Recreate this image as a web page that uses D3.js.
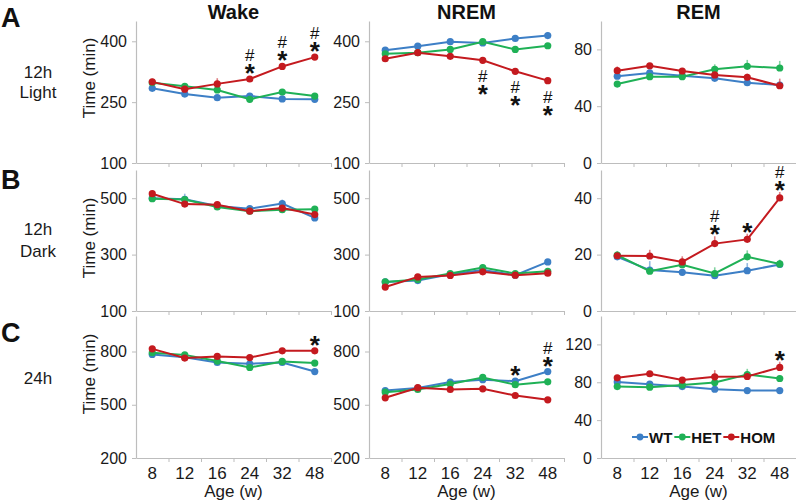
<!DOCTYPE html>
<html><head><meta charset="utf-8">
<script src="https://cdn.jsdelivr.net/npm/d3@7"></script>
<style>
html,body{margin:0;padding:0;background:#fff;}
svg{display:block;font-family:"Liberation Sans",Arial,sans-serif;}
</style></head>
<body><svg id="c" width="796" height="501"></svg>
<script>
// ---------- DATA ----------
const ages = ["8","12","16","24","32","48"];
const groups = ["WT","HET","HOM"];
const columnTitles = ["Wake","NREM","REM"];
const rowLetters = ["A","B","C"];
const rowNames = [["12h","Light"],["12h","Dark"],["24h"]];
const xAxisTitle = "Age (w)";
const yAxisTitle = "Time (min)";

// Row A : 12h Light
const wakeLightWT  = [284,270,261,265,258,257];
const wakeLightHET = [298,289,280,257,275,265];
const wakeLightHOM = [300,282,295,307,338,361];
const nremLightWT  = [378,388,399,396,407,414];
const nremLightHET = [369,372,380,399,380,389];
const nremLightHOM = [357,372,363,353,326,303];
const remLightWT   = [61.1,63.4,61.5,59.6,56.5,54.9];
const remLightHET  = [55.6,60.8,60.8,66.0,68.1,66.9];
const remLightHOM  = [65.0,68.5,64.8,62.0,60.4,54.4];
// Row B : 12h Dark
const wakeDarkWT   = [500,496,472,463,481,430];
const wakeDarkHET  = [498,495,469,454,459,461];
const wakeDarkHOM  = [516,479,477,454,465,442];
const nremDarkWT   = [203,208,230,245,227,274];
const nremDarkHET  = [203,212,233,254,233,241];
const nremDarkHOM  = [185,221,226,239,227,234];
const remDarkWT    = [19.2,14.5,13.7,12.5,14.3,16.5];
const remDarkHET   = [19.8,14.1,16.4,13.3,19.2,16.7];
const remDarkHOM   = [19.6,19.5,17.4,23.9,25.4,40.1];
// Row C : 24h
const wake24WT     = [783,768,738,731,738,687];
const wake24HET    = [793,781,746,710,744,735];
const wake24HOM    = [815,763,772,766,804,804];
const nrem24WT     = [580,594,628,641,633,687];
const nrem24HET    = [571,586,617,654,613,629];
const nrem24HOM    = [539,596,586,590,552,528];
const rem24WT      = [80.4,78.0,75.4,72.6,71.2,71.2];
const rem24HET     = [75.4,74.8,77.2,79.7,88.2,84.0];
const rem24HOM     = [84.7,89.0,82.3,85.8,86.1,95.7];

// error (SEM, upper bars)
const wakeLightErr = {WT:[4,4,4,6,4,4], HET:[5,6,5,5,7,5], HOM:[8,6,14,5,8,6]};
const nremLightErr = {WT:[4,4,4,4,5,9], HET:[4,4,4,5,5,4], HOM:[5,5,5,6,6,5]};
const remLightErr  = {WT:[1.5,1.5,1.5,1.5,1.5,1.5], HET:[1.5,1.5,1.5,3.5,4.5,5], HOM:[3,1.5,2,2,2.5,5]};
const wakeDarkErr  = {WT:[6,20,8,10,14,6], HET:[6,8,6,6,6,6], HOM:[8,6,6,6,6,6]};
const nremDarkErr  = {WT:[5,5,6,6,6,8], HET:[5,5,5,6,5,5], HOM:[5,5,5,5,5,5]};
const remDarkErr   = {WT:[1,3.2,1,1,2.7,1.5], HET:[1.5,1.5,1.5,2.2,2.3,1.5], HOM:[1,2.2,2,2.6,2,2.1]};
const wake24Err    = {WT:[8,8,8,10,8,10], HET:[8,8,8,8,10,8], HOM:[10,8,8,8,8,8]};
const nrem24Err    = {WT:[8,8,8,10,8,12], HET:[8,8,8,8,8,8], HOM:[8,8,8,8,8,8]};
const rem24Err     = {WT:[2,2,2,2,2,2], HET:[2,2,2,3,6,3], HOM:[3,2,2,7,2,6]};

// significance markers (* vs WT, # vs HET)
const wakeLightSig = ["","","","#*","#*","#*"];
const nremLightSig = ["","","","#*","#*","#*"];
const remDarkSig   = ["","","","#*","*","#*"];
const wake24Sig    = ["","","","","","*"];
const nrem24Sig    = ["","","","","*","#*"];
const rem24Sig     = ["","","","","","*"];

// axis settings
const wakeLightTicks = [100,250,400], wakeLightDomain = [100,450];
const remLightTicks  = [0,40,80],     remLightDomain  = [0,100];
const wakeDarkTicks  = [100,300,500], wakeDarkDomain  = [100,600];
const remDarkTicks   = [0,20,40],     remDarkDomain   = [0,50];
const day24Ticks     = [200,500,800], day24Domain     = [200,1000];
const rem24Ticks     = [0,40,80,120], rem24Domain     = [0,150];

const colors = {WT:"#3d7fc6", HET:"#1fb156", HOM:"#c41a1f"};

// ---------- LAYOUT ----------
const colX = [[136,331],[369,564],[601,796]];
const rowY = [[21,163],[170,311],[316,458]];

const panels = [
  {r:0,c:0,s:{WT:wakeLightWT,HET:wakeLightHET,HOM:wakeLightHOM},e:wakeLightErr,d:wakeLightDomain,t:wakeLightTicks,sig:wakeLightSig,anchor:"HOM",dir:-1},
  {r:0,c:1,s:{WT:nremLightWT,HET:nremLightHET,HOM:nremLightHOM},e:nremLightErr,d:wakeLightDomain,t:wakeLightTicks,sig:nremLightSig,anchor:"HOM",dir:1},
  {r:0,c:2,s:{WT:remLightWT,HET:remLightHET,HOM:remLightHOM},e:remLightErr,d:remLightDomain,t:remLightTicks},
  {r:1,c:0,s:{WT:wakeDarkWT,HET:wakeDarkHET,HOM:wakeDarkHOM},e:wakeDarkErr,d:wakeDarkDomain,t:wakeDarkTicks},
  {r:1,c:1,s:{WT:nremDarkWT,HET:nremDarkHET,HOM:nremDarkHOM},e:nremDarkErr,d:wakeDarkDomain,t:wakeDarkTicks},
  {r:1,c:2,s:{WT:remDarkWT,HET:remDarkHET,HOM:remDarkHOM},e:remDarkErr,d:remDarkDomain,t:remDarkTicks,sig:remDarkSig,anchor:"HOM",dir:-1},
  {r:2,c:0,s:{WT:wake24WT,HET:wake24HET,HOM:wake24HOM},e:wake24Err,d:day24Domain,t:day24Ticks,sig:wake24Sig,anchor:"HOM",dir:-1},
  {r:2,c:1,s:{WT:nrem24WT,HET:nrem24HET,HOM:nrem24HOM},e:nrem24Err,d:day24Domain,t:day24Ticks,sig:nrem24Sig,anchor:"WT",dir:-1},
  {r:2,c:2,s:{WT:rem24WT,HET:rem24HET,HOM:rem24HOM},e:rem24Err,d:rem24Domain,t:rem24Ticks,sig:rem24Sig,anchor:"HOM",dir:-1},
];

const svg = d3.select("#c");
const axisColor = "#bdbdbd", textColor = "#1a1a1a";

// titles
columnTitles.forEach((t,i)=>{
  svg.append("text").attr("x",(colX[i][0]+colX[i][1])/2).attr("y",19)
    .attr("text-anchor","middle").attr("font-size",20).attr("font-weight","bold")
    .attr("fill","#111").text(t);
});
// row letters and names
const letterY = [27,189,342];
const nameY = [[78,98],[235,257],[384]];
rowLetters.forEach((l,i)=>{
  svg.append("text").attr("x",1).attr("y",letterY[i]).attr("font-size",27)
    .attr("font-weight","bold").attr("fill","#111").text(l);
  rowNames[i].forEach((n,j)=>{
    svg.append("text").attr("x",38).attr("y",nameY[i][j]).attr("text-anchor","middle")
      .attr("font-size",17).attr("fill",textColor).text(n);
  });
});
// y axis titles
const yTitleCY = [78,238,374];
yTitleCY.forEach(cy=>{
  svg.append("text").attr("transform",`translate(95,${cy}) rotate(-90)`)
    .attr("text-anchor","middle").attr("font-size",17).attr("fill",textColor).text(yAxisTitle);
});

panels.forEach(p=>{
  const g = svg.append("g");
  const x = d3.scaleBand().domain(ages).range(colX[p.c]);
  const xb = d3.scaleLinear().domain([0,ages.length]).range(colX[p.c]);
  const y = d3.scaleLinear().domain(p.d).range([rowY[p.r][1],rowY[p.r][0]]);
  const cx = a => x(a)+x.bandwidth()/2;

  // y axis
  const ya = g.append("g").attr("transform",`translate(${colX[p.c][0]},0)`)
    .call(d3.axisLeft(y).tickValues(p.t).tickSize(4).tickSizeOuter(0).tickPadding(5));
  ya.select(".domain").attr("stroke",axisColor).attr("stroke-width",1.2);
  ya.selectAll(".tick line").attr("stroke",axisColor);
  ya.selectAll(".tick text").attr("font-size",16).attr("fill",textColor)
    .attr("font-family","Liberation Sans, Arial, sans-serif");

  // x axis line + boundary ticks
  const xa = g.append("g").attr("transform",`translate(0,${rowY[p.r][1]})`)
    .call(d3.axisBottom(xb).tickValues(d3.range(1,ages.length+1)).tickSize(4).tickSizeOuter(0).tickFormat(""));
  xa.select(".domain").attr("stroke",axisColor).attr("stroke-width",1.2);
  xa.selectAll(".tick line").attr("stroke",axisColor);
  if(p.r===2){
    const xl = g.append("g").attr("transform",`translate(0,${rowY[p.r][1]})`)
      .call(d3.axisBottom(x).tickSize(0).tickPadding(9));
    xl.select(".domain").remove();
    xl.selectAll(".tick text").attr("font-size",17).attr("fill",textColor)
      .attr("font-family","Liberation Sans, Arial, sans-serif");
    svg.append("text").attr("x",(colX[p.c][0]+colX[p.c][1])/2).attr("y",497)
      .attr("text-anchor","middle").attr("font-size",17).attr("fill",textColor).text(xAxisTitle);
  }

  // series
  groups.forEach(gr=>{
    const vals = p.s[gr], err = p.e[gr];
    const col = colors[gr];
    g.selectAll(null).data(ages).enter().append("line")
      .attr("x1",a=>cx(a)).attr("x2",a=>cx(a))
      .attr("y1",(a,i)=>y(vals[i])).attr("y2",(a,i)=>y(vals[i]+err[i]))
      .attr("stroke",col).attr("stroke-opacity",0.55).attr("stroke-width",1.6);
    g.append("path").datum(vals)
      .attr("d",d3.line().x((v,i)=>cx(ages[i])).y(v=>y(v)))
      .attr("fill","none").attr("stroke",col).attr("stroke-width",2);
    g.selectAll(null).data(vals).enter().append("circle")
      .attr("cx",(v,i)=>cx(ages[i])).attr("cy",v=>y(v)).attr("r",3.6).attr("fill",col);
  });

  // significance markers: one text element per age, "#" stacked above "*"
  if(p.sig){
    p.sig.forEach((s,i)=>{
      if(!s) return;
      const v = p.s[p.anchor][i], e = p.e[p.anchor][i];
      const px = cx(ages[i]);
      const hasHash = s.includes("#"), hasStar = s.includes("*");
      let starC, hashC;
      if(p.dir<0){
        const top = Math.min(y(v)-12, y(v+e)-8);
        starC = top; hashC = top-12;
      } else {
        hashC = y(v)+16; starC = y(v)+28;
      }
      const t = g.append("text").attr("text-anchor","middle").attr("fill","#111");
      if(hasHash){
        t.append("tspan").attr("x",px).attr("y",hashC+6).attr("font-size",17).text("#");
      }
      if(hasStar){
        t.append("tspan").attr("x",px).attr("y",starC+15).attr("font-size",26)
          .attr("font-weight","bold").text("*");
      }
    });
  }
});

// legend
const lg = svg.append("g").attr("transform","translate(632,437)");
let lx = 0;
groups.forEach(gr=>{
  const item = lg.append("g").attr("transform",`translate(${lx},0)`);
  item.append("line").attr("x1",0).attr("x2",16).attr("y1",0).attr("y2",0)
    .attr("stroke",colors[gr]).attr("stroke-width",2);
  item.append("circle").attr("cx",8).attr("cy",0).attr("r",3.4).attr("fill",colors[gr]);
  const t = item.append("text").attr("x",17).attr("y",5.5).attr("font-size",15)
    .attr("font-weight","bold").attr("fill","#111").text(gr);
  lx += 17 + t.node().getComputedTextLength() + 2;
});
</script></body></html>
